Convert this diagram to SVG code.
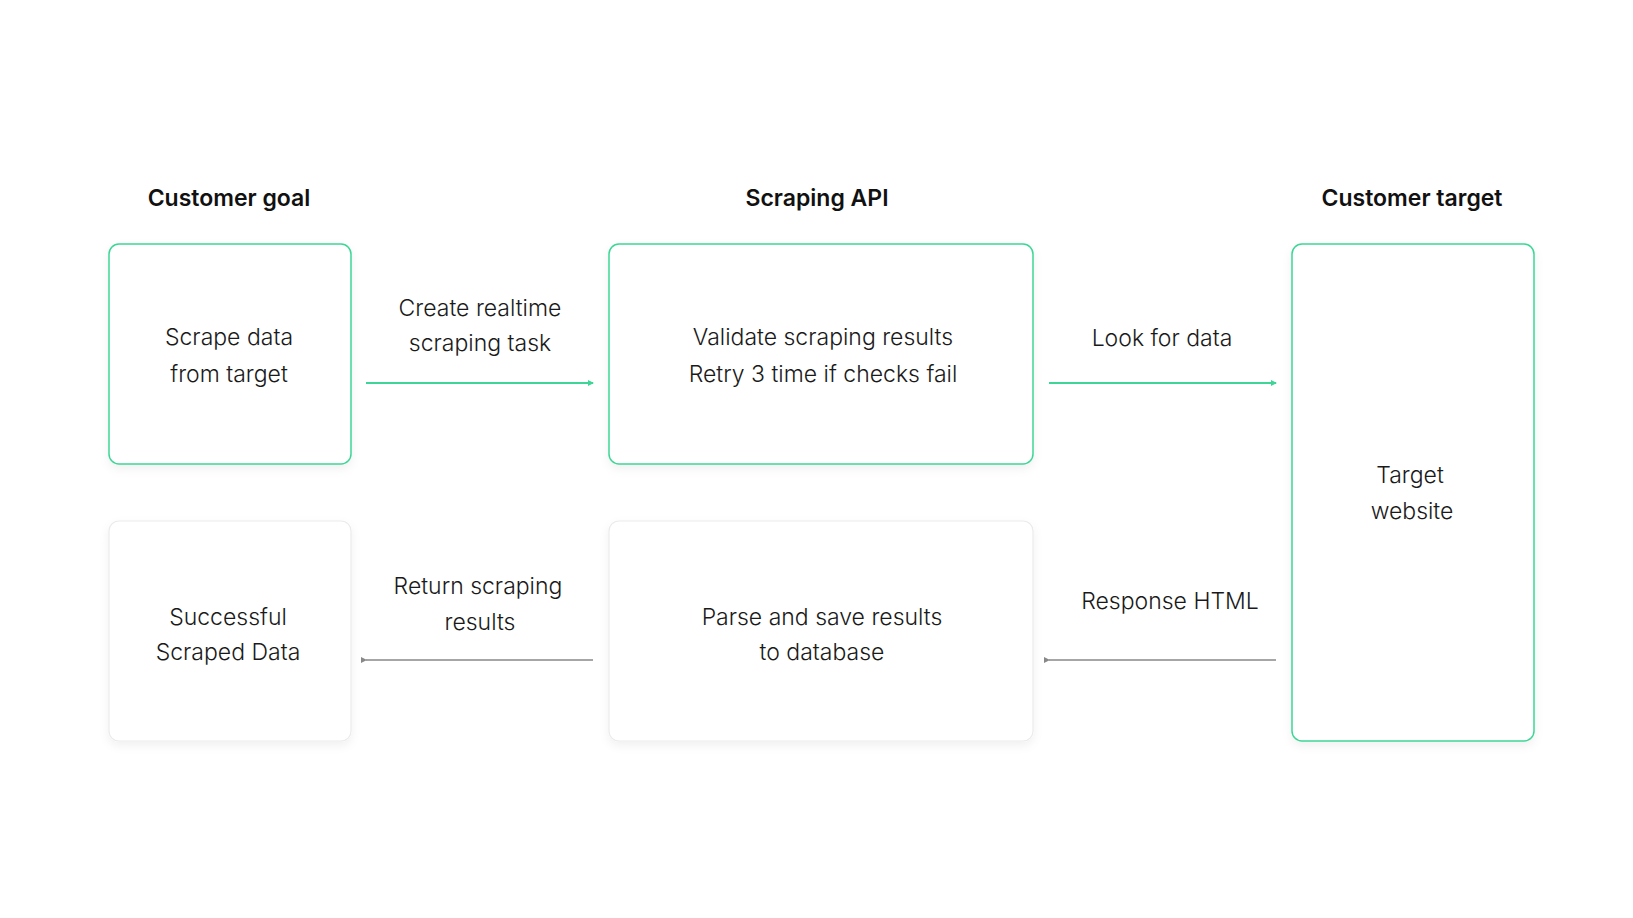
<svg xmlns="http://www.w3.org/2000/svg" width="1633" height="918" viewBox="0 0 1633 918">
<style>
.h{font-family:Inter,"Noto Sans",sans-serif;font-weight:600;font-size:23px;fill:#111;text-anchor:middle}
.t{font-family:Inter,"Noto Sans",sans-serif;font-weight:300;font-size:23px;fill:#1a1a1a;text-anchor:middle}
.g{fill:#fff;stroke:#3ed696;stroke-width:1.5}
.w{fill:#fff;stroke:#ebebeb;stroke-width:1.2}
.ag{stroke:#3ed696;stroke-width:2;fill:none}
.ay{stroke:#888;stroke-width:1.5;fill:none}
</style>
<defs>
<filter id="sh" x="-10%" y="-10%" width="120%" height="125%"><feDropShadow dx="0" dy="4" stdDeviation="5" flood-color="#000" flood-opacity="0.06"/></filter>
<marker id="mg" markerWidth="6" markerHeight="6" refX="5" refY="3" orient="auto" markerUnits="userSpaceOnUse"><path d="M0,0L6,3L0,6z" fill="#3ed696"/></marker>
<marker id="my" markerWidth="6" markerHeight="6" refX="1" refY="3" orient="auto" markerUnits="userSpaceOnUse"><path d="M6,0L0,3L6,6z" fill="#888"/></marker>
</defs>
<rect width="1633" height="918" fill="#fff"/>
<text class="h" x="229" y="206">Customer goal</text>
<text class="h" x="817" y="206">Scraping API</text>
<text class="h" x="1412" y="206">Customer target</text>
<g id="n1"><rect class="g" filter="url(#sh)" x="109" y="244" width="242" height="220" rx="10"/><text class="t" x="229" y="345">Scrape data</text><text class="t" x="229" y="382">from target</text></g>
<g id="n2"><rect class="g" filter="url(#sh)" x="609" y="244" width="424" height="220" rx="10"/><text class="t" x="823" y="345">Validate scraping results</text><text class="t" x="823" y="382">Retry 3 time if checks fail</text></g>
<g id="n3"><rect class="g" filter="url(#sh)" x="1292" y="244" width="242" height="497" rx="10"/><text class="t" x="1410" y="483">Target</text><text class="t" x="1412" y="519">website</text></g>
<g id="n4"><rect class="w" filter="url(#sh)" x="109" y="521" width="242" height="220" rx="10"/><text class="t" x="228" y="625">Successful</text><text class="t" x="228" y="660">Scraped Data</text></g>
<g id="n5"><rect class="w" filter="url(#sh)" x="609" y="521" width="424" height="220" rx="10"/><text class="t" x="822" y="625">Parse and save results</text><text class="t" x="822" y="660">to database</text></g>
<g id="connectors">
<line class="ag" x1="366" y1="383" x2="593" y2="383" marker-end="url(#mg)"/>
<line class="ag" x1="1049" y1="383" x2="1276" y2="383" marker-end="url(#mg)"/>
<line class="ay" x1="593" y1="660" x2="366" y2="660" marker-end="url(#my)"/>
<line class="ay" x1="1276" y1="660" x2="1049" y2="660" marker-end="url(#my)"/>
<text class="t" x="480" y="316">Create realtime</text><text class="t" x="480" y="351">scraping task</text>
<text class="t" x="1162" y="346">Look for data</text>
<text class="t" x="478" y="594">Return scraping</text><text class="t" x="480" y="630">results</text>
<text class="t" x="1170" y="609">Response HTML</text>
</g>
</svg>
